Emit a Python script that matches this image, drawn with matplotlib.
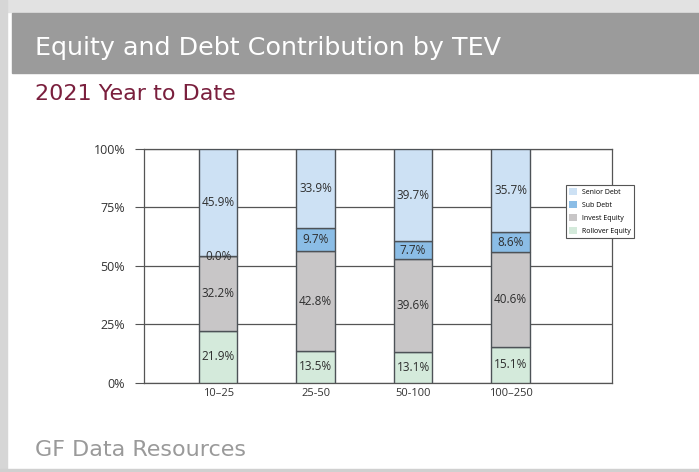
import matplotlib.pyplot as plt
import numpy as np
from matplotlib.patches import Rectangle

# data
categories = ['10\u201325', '25-50', '50-100', '100\u2013250']
rollover = [21.9, 13.5, 13.1, 15.1]
invest = [32.2, 42.8, 39.6, 40.6]
sub_debt = [0.0, 9.7, 7.7, 8.6]
senior = [45.9, 33.9, 39.7, 35.7]
yticks = [0, 25, 50, 75, 100]

series = [('Rollover Equity', rollover, '#d4eadb'),
          ('Invest Equity', invest, '#c8c6c7'),
          ('Sub Debt', sub_debt, '#8bbde6'),
          ('Senior Debt', senior, '#cde1f4')]

W, H = 699, 472
fig = plt.figure(figsize=(W / 100, H / 100), dpi=100)
fig.patch.set_facecolor('white')


def px_rect(x, y, w, h, color, z=0):
    # rectangle given in pixel coords from the top-left corner
    fig.patches.append(Rectangle((x / W, 1 - (y + h) / H), w / W, h / H,
                                 transform=fig.transFigure, color=color, zorder=z))


px_rect(0, 0, W, 12, '#e2e2e2')
px_rect(0, 0, 7, H, '#d6d6d6')
px_rect(0, 469, W, 3, '#d0d0d0')
px_rect(12, 13, W - 12, 60, '#9b9b9b', 1)

fig.text(35 / W, 1 - 55 / H, 'Equity and Debt Contribution by TEV', color='white',
         fontsize=18.3, va='baseline', ha='left')
fig.text(35 / W, 1 - 100 / H, '2021 Year to Date', color='#7a1f3d',
         fontsize=16, va='baseline', ha='left')
fig.text(35 / W, 1 - 456 / H, 'GF Data Resources', color='#9a9a9a',
         fontsize=16, va='baseline', ha='left')

# plot area
left, right, top, bottom = 144, 612, 149, 382.5
ax = fig.add_axes([left / W, 1 - bottom / H, (right - left) / W, (bottom - top) / H])
x = np.arange(len(categories))
base = np.zeros(len(categories))
handles = {}
for name, vals, col in series:
    vals = np.array(vals)
    b = ax.bar(x, vals, width=0.395, bottom=base, color=col, edgecolor='#4d5257',
               linewidth=1.0, zorder=3)
    handles[name] = b
    for xi, v, b0 in zip(x, vals, base):
        ax.text(xi, b0 + v / 2, f'{v:.1f}%', ha='center', va='center',
                fontsize=8.5, family='Open Sans', color='#2e2e2e', zorder=4)
    base = base + vals

ax.set_xlim(-0.76, 4.04)
ax.set_ylim(0, 100)
ax.set_yticks(yticks)
ax.set_yticklabels([f'{t}%' for t in yticks], family='Open Sans')
ax.yaxis.grid(True, color='#555555', linewidth=0.9, zorder=0)
ax.set_xticks(x)
ax.set_xticklabels(categories, family='Open Sans')
ax.tick_params(axis='y', length=6.5, color='#555555', labelsize=9,
               labelcolor='#333333', pad=7)
ax.tick_params(axis='x', length=0, labelsize=8, labelcolor='#333333', pad=4)
for s in ['left', 'top', 'right', 'bottom']:
    ax.spines[s].set_color('#555555')
    ax.spines[s].set_linewidth(0.9)

order = ['Senior Debt', 'Sub Debt', 'Invest Equity', 'Rollover Equity']
leg = fig.legend([handles[n] for n in order], order,
                 loc='upper left', bbox_to_anchor=(566 / W, 1 - 185 / H),
                 prop={'family': 'Open Sans', 'size': 5}, frameon=True,
                 fancybox=False, edgecolor='#555555', framealpha=1,
                 handlelength=1.1, handleheight=1.1, borderpad=0.5,
                 labelspacing=0.75, handletextpad=0.7, borderaxespad=0)
for h in leg.legend_handles:
    h.set_edgecolor('none')
leg.get_frame().set_linewidth(0.8)

fig.savefig('out.png', dpi=100)
